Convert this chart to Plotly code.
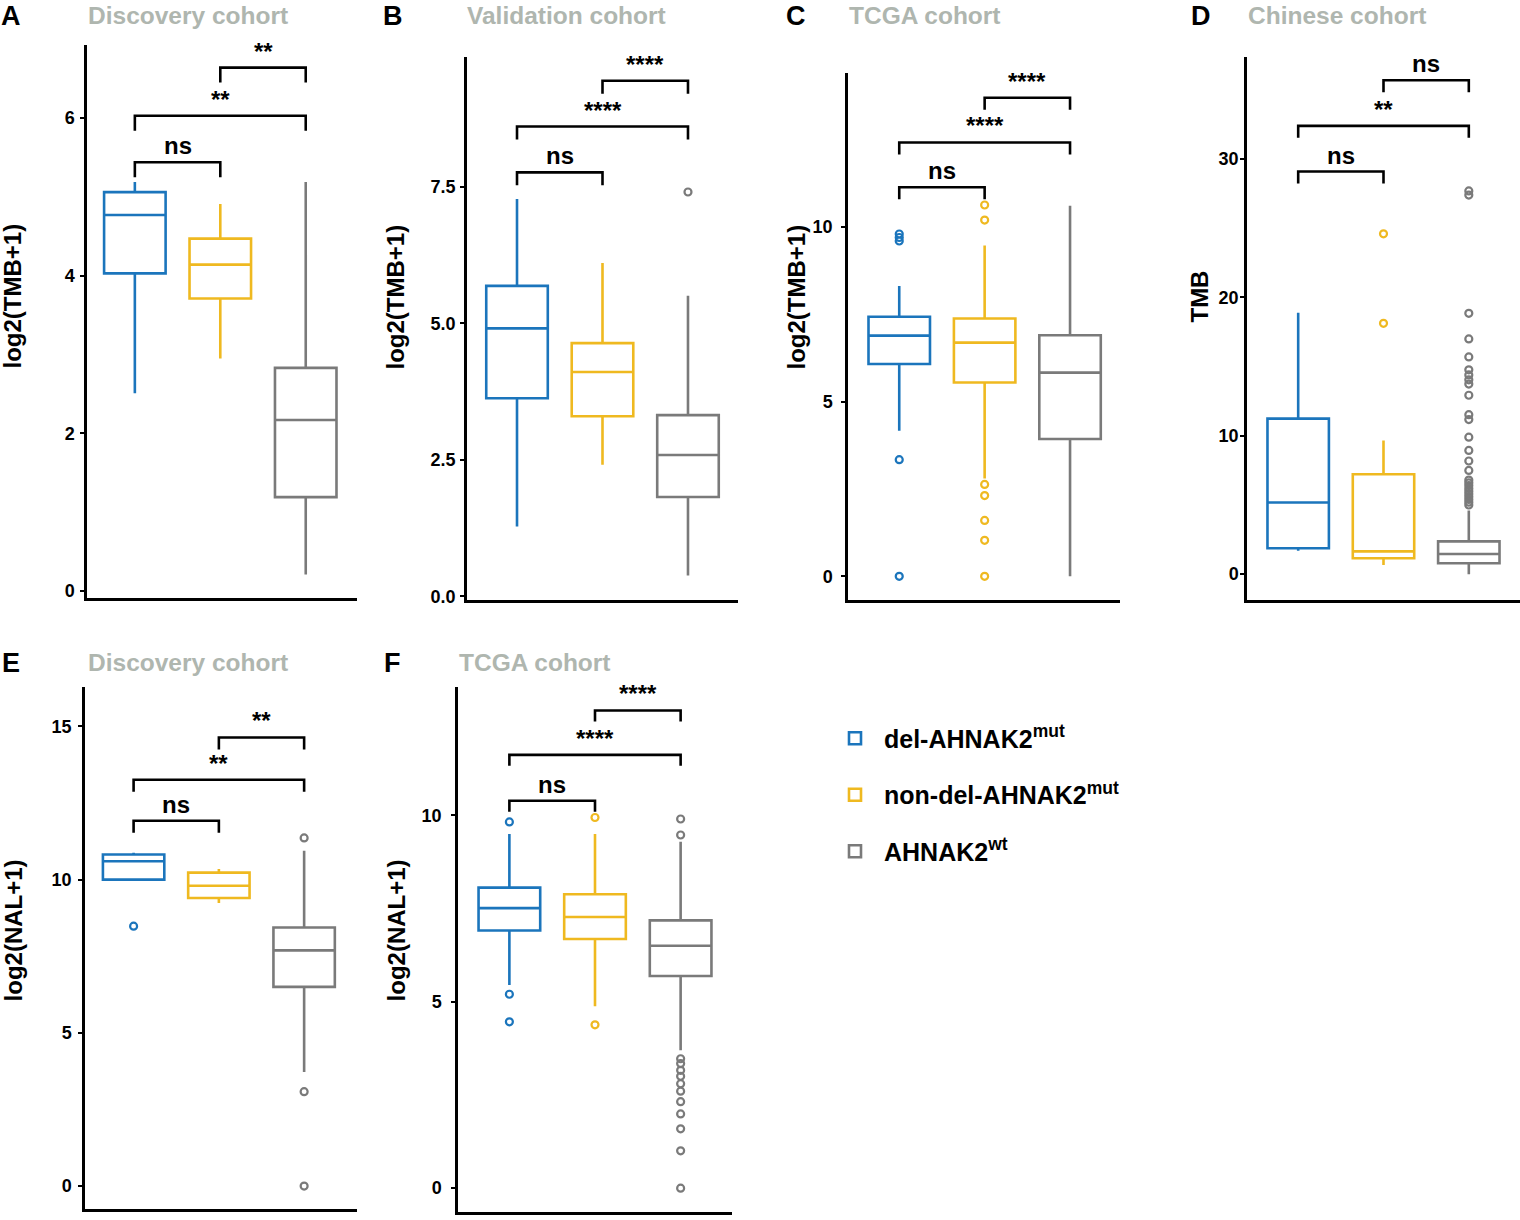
import plotly.graph_objects as go

# ---------------- data ----------------
categories = ["del", "non-del", "wt"]
legend_names = ["del-AHNAK2<sup>mut</sup>", "non-del-AHNAK2<sup>mut</sup>", "AHNAK2<sup>wt</sup>"]
colors = ["#1B75BC", "#EFB920", "#7A7A7A"]
sig_pairs = [(0, 1), (0, 2), (1, 2)]

# Panel A: Discovery cohort, log2(TMB+1)
A_q1 = [4.03, 3.71, 1.19]
A_median = [4.77, 4.14, 2.17]
A_q3 = [5.06, 4.47, 2.83]
A_lower = [2.51, 2.95, 0.21]
A_upper = [5.19, 4.91, 5.19]
A_outliers = [[], [], []]
A_sig_labels = ["ns", "**", "**"]
A_sig_y = [5.44, 6.03, 6.64]

# Panel B: Validation cohort, log2(TMB+1)
B_q1 = [3.63, 3.30, 1.82]
B_median = [4.91, 4.11, 2.59]
B_q3 = [5.69, 4.64, 3.32]
B_lower = [1.28, 2.41, 0.38]
B_upper = [7.28, 6.11, 5.51]
B_outliers = [[], [], [7.41]]
B_sig_labels = ["ns", "****", "****"]
B_sig_y = [7.77, 8.61, 9.45]

# Panel C: TCGA cohort, log2(TMB+1)
C_q1 = [6.08, 5.55, 3.93]
C_median = [6.89, 6.69, 5.83]
C_q3 = [7.43, 7.38, 6.90]
C_lower = [4.17, 2.80, 0.0]
C_upper = [8.31, 9.47, 10.61]
C_outliers = [[9.8, 9.7, 9.6, 3.34, 0.0],
              [10.63, 10.2, 2.63, 2.31, 1.6, 1.03, 0.0],
              []]
C_sig_labels = ["ns", "****", "****"]
C_sig_y = [11.14, 12.42, 13.70]

# Panel D: Chinese cohort, TMB
D_q1 = [1.87, 1.15, 0.79]
D_median = [5.18, 1.65, 1.46]
D_q3 = [11.24, 7.22, 2.37]
D_lower = [1.70, 0.67, 0.0]
D_upper = [18.9, 9.66, 4.6]
D_outliers = [[],
              [24.6, 18.13],
              [27.7, 27.4, 18.85, 17.0, 15.7, 14.77, 14.4, 14.05, 13.74, 12.93,
               11.53, 11.17, 9.9, 8.94, 8.18, 7.5, 6.8, 6.6, 6.4, 6.2, 6.0,
               5.8, 5.6, 5.4, 5.2, 5.0]]
D_sig_labels = ["ns", "**", "ns"]
D_sig_y = [29.1, 32.4, 35.7]

# Panel E: Discovery cohort, log2(NAL+1)
E_q1 = [10.0, 9.40, 6.50]
E_median = [10.60, 9.80, 7.69]
E_q3 = [10.82, 10.23, 8.44]
E_lower = [10.0, 9.24, 3.72]
E_upper = [10.88, 10.35, 10.94]
E_outliers = [[8.48], [], [11.36, 3.08, 0.0]]
E_sig_labels = ["ns", "**", "**"]
E_sig_y = [11.92, 13.26, 14.64]

# Panel F: TCGA cohort, log2(NAL+1)
F_q1 = [6.91, 6.68, 5.69]
F_median = [7.51, 7.27, 6.50]
F_q3 = [8.06, 7.88, 7.18]
F_lower = [5.45, 4.88, 3.70]
F_upper = [9.50, 9.50, 9.29]
F_outliers = [[9.82, 5.2, 4.46],
              [9.94, 4.38],
              [9.9, 9.47, 3.47, 3.34, 3.16, 3.0, 2.8, 2.6, 2.32, 1.99, 1.59, 1.0, 0.0]]
F_sig_labels = ["ns", "****", "****"]
F_sig_y = [10.39, 11.62, 12.81]

# ---------------- layout (pixels) ----------------
W, H = 1520, 1220
FONT = "Liberation Sans, Arial, sans-serif"
TITLE_GRAY = "#AFB6AF"


def fx(px):
    return px / W


def fy(py):
    return 1 - py / H


panels = [
    dict(letter="A", title="Discovery cohort", ytitle="log2(TMB+1)",
         q1=A_q1, med=A_median, q3=A_q3, lo=A_lower, hi=A_upper, out=A_outliers,
         sig=A_sig_labels, sigy=A_sig_y,
         px=(87, 357), py=(45, 601), xr=[-0.56, 2.6], yr=[-0.09, 6.93],
         tickvals=[0, 2, 4, 6], tickfmt="", standoff=2, letter_xy=(11, 16), title_x=188,
         ytitle_xy=(13, 298), drop=15),
    dict(letter="B", title="Validation cohort", ytitle="log2(TMB+1)",
         q1=B_q1, med=B_median, q3=B_q3, lo=B_lower, hi=B_upper, out=B_outliers,
         sig=B_sig_labels, sigy=B_sig_y,
         px=(467, 738), py=(57, 603), xr=[-0.585, 2.585], yr=[-0.07, 9.89],
         tickvals=[0, 2.5, 5, 7.5], tickfmt=".1f", standoff=1, letter_xy=(393, 16), title_x=566,
         ytitle_xy=(396, 298), drop=13),
    dict(letter="C", title="TCGA cohort", ytitle="log2(TMB+1)",
         q1=C_q1, med=C_median, q3=C_q3, lo=C_lower, hi=C_upper, out=C_outliers,
         sig=C_sig_labels, sigy=C_sig_y,
         px=(848, 1120), py=(73, 603), xr=[-0.6, 2.585], yr=[-0.68, 14.42],
         tickvals=[0, 5, 10], tickfmt="", standoff=5, letter_xy=(796, 16), title_x=925,
         ytitle_xy=(797, 299), drop=12),
    dict(letter="D", title="Chinese cohort", ytitle="TMB",
         q1=D_q1, med=D_median, q3=D_q3, lo=D_lower, hi=D_upper, out=D_outliers,
         sig=D_sig_labels, sigy=D_sig_y,
         px=(1247, 1520), py=(57, 603), xr=[-0.6, 2.6], yr=[-1.87, 37.4],
         tickvals=[0, 10, 20, 30], tickfmt="", standoff=-2, letter_xy=(1201, 16), title_x=1337,
         ytitle_xy=(1200, 298), drop=12),
    dict(letter="E", title="Discovery cohort", ytitle="log2(NAL+1)",
         q1=E_q1, med=E_median, q3=E_q3, lo=E_lower, hi=E_upper, out=E_outliers,
         sig=E_sig_labels, sigy=E_sig_y,
         px=(85, 357), py=(690, 1215), xr=[-0.57, 2.62], yr=[-0.75, 16.3],
         tickvals=[0, 5, 10, 15], tickfmt="", standoff=3, letter_xy=(11, 666), title_x=188,
         ytitle_xy=(13, 935), drop=12),
    dict(letter="F", title="TCGA cohort", ytitle="log2(NAL+1)",
         q1=F_q1, med=F_median, q3=F_q3, lo=F_lower, hi=F_upper, out=F_outliers,
         sig=F_sig_labels, sigy=F_sig_y,
         px=(458, 732), py=(690, 1218), xr=[-0.6, 2.6], yr=[-0.64, 13.45],
         tickvals=[0, 5, 10], tickfmt="", standoff=6, letter_xy=(392, 666), title_x=535,
         ytitle_xy=(396, 935), drop=11),
]

fig = go.Figure()
annotations = []
layout_axes = {}

for i, p in enumerate(panels):
    n = i + 1
    xa = "x" if n == 1 else f"x{n}"
    ya = "y" if n == 1 else f"y{n}"
    xkey = "xaxis" if n == 1 else f"xaxis{n}"
    ykey = "yaxis" if n == 1 else f"yaxis{n}"

    layout_axes[xkey] = dict(
        domain=[fx(p["px"][0]), fx(p["px"][1])], anchor=ya,
        type="category", categoryorder="array", categoryarray=categories,
        range=p["xr"], showline=True, linecolor="black", linewidth=2.5,
        ticks="", showticklabels=False, showgrid=False, zeroline=False, fixedrange=True)
    layout_axes[ykey] = dict(
        domain=[fy(p["py"][1]), fy(p["py"][0])], anchor=xa,
        range=p["yr"], showline=True, linecolor="black", linewidth=2.5,
        ticks="outside", ticklen=4, tickwidth=2, tickcolor="black",
        ticklabelstandoff=p["standoff"],
        tickvals=p["tickvals"], tickformat=p["tickfmt"],
        tickfont=dict(family=FONT, size=18, color="black", weight="bold"),
        showgrid=False, zeroline=False, fixedrange=True)

    # boxes
    for g in range(3):
        fig.add_trace(go.Box(
            x=[categories[g]], q1=[p["q1"][g]], median=[p["med"][g]], q3=[p["q3"][g]],
            lowerfence=[p["lo"][g]], upperfence=[p["hi"][g]],
            boxpoints=False, width=0.72, whiskerwidth=0,
            line=dict(color=colors[g], width=2.6), fillcolor="rgba(255,255,255,0)",
            name=legend_names[g], legendgroup=categories[g], showlegend=(i == 0),
            xaxis=xa, yaxis=ya, hoverinfo="skip"))
        if p["out"][g]:
            fig.add_trace(go.Scatter(
                x=[categories[g]] * len(p["out"][g]), y=p["out"][g], mode="markers",
                marker=dict(symbol="circle-open", size=7, color=colors[g],
                            line=dict(width=2.2, color=colors[g])),
                showlegend=False, xaxis=xa, yaxis=ya, hoverinfo="skip"))

    # significance brackets
    span = p["yr"][1] - p["yr"][0]
    hpx = p["py"][1] - p["py"][0]
    drop = p["drop"] * span / hpx
    for (a, b), lab, yy in zip(sig_pairs, p["sig"], p["sigy"]):
        fig.add_trace(go.Scatter(
            x=[categories[a], categories[a], categories[b], categories[b]],
            y=[yy - drop, yy, yy, yy - drop], mode="lines",
            line=dict(color="black", width=2.6), showlegend=False,
            xaxis=xa, yaxis=ya, hoverinfo="skip"))
        is_ns = lab == "ns"
        annotations.append(dict(
            x=(a + b) / 2, y=yy, xref=xa, yref=ya, text=f"<b>{lab}</b>",
            showarrow=False, xanchor="center", yanchor="bottom",
            yshift=1 if is_ns else 1,
            font=dict(family=FONT, size=24, color="black")))

    # panel letter, title, y title
    annotations.append(dict(
        x=fx(p["letter_xy"][0]), y=fy(p["letter_xy"][1]), xref="paper", yref="paper",
        text=f"<b>{p['letter']}</b>", showarrow=False, xanchor="center", yanchor="middle",
        font=dict(family=FONT, size=27, color="black")))
    annotations.append(dict(
        x=fx(p["title_x"]), y=fy(p["letter_xy"][1]), xref="paper", yref="paper",
        text=f"<b>{p['title']}</b>", showarrow=False, xanchor="center", yanchor="middle",
        font=dict(family=FONT, size=24.5, color=TITLE_GRAY)))
    annotations.append(dict(
        x=fx(p["ytitle_xy"][0]), y=fy(p["ytitle_xy"][1]), xref="paper", yref="paper",
        text=f"<b>{p['ytitle']}</b>", showarrow=False, xanchor="center", yanchor="middle",
        textangle=-90, font=dict(family=FONT, size=24, color="black")))

fig.update_layout(
    width=W, height=H, margin=dict(l=0, r=0, t=0, b=0),
    paper_bgcolor="white", plot_bgcolor="white",
    boxmode="overlay", annotations=annotations,
    legend=dict(x=fx(826), y=fy(719), xanchor="left", yanchor="top",
                bgcolor="rgba(0,0,0,0)", tracegroupgap=21, traceorder="grouped",
                font=dict(family=FONT, size=25, color="black", weight="bold"),
                itemwidth=48),
    **layout_axes)

# remove the page's default body margin so the figure sits at the window's top-left corner
fig.write_html("out.html", config={"displayModeBar": False},
               post_script="document.body.style.margin='0px';")
